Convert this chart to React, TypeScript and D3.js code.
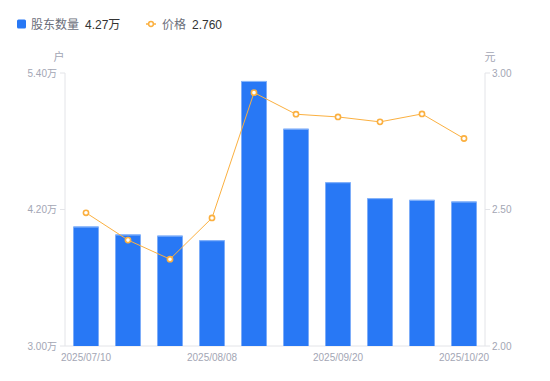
import React from "react";
import * as d3 from "d3";

const dates = ["2025/07/10","2025/07/20","2025/07/31","2025/08/08","2025/08/20","2025/08/31","2025/09/20","2025/09/30","2025/10/10","2025/10/20"];
const holders = [4.05, 3.98, 3.97, 3.93, 5.33, 4.91, 4.44, 4.30, 4.285, 4.27];
const prices = [2.488, 2.388, 2.318, 2.469, 2.928, 2.849, 2.839, 2.821, 2.850, 2.760];
const leftTicks = [3.0, 4.2, 5.4];
const rightTicks = [2.0, 2.5, 3.0];
const shownDates = ["2025/07/10","2025/08/08","2025/09/20","2025/10/20"];

const W = 550, H = 381;
const M = { left: 65, right: 485, top: 73, bottom: 346 };
const FONT = "'Liberation Sans', Arial, 'Noto Sans CJK SC', sans-serif";
const BLUE = "#2878f5";
const ORANGE = "#fbb040";
const AXIS_TEXT = "#a3a6b4";
const AXIS_LINE = "#e3e4e8";

export default function App() {
  const x = d3.scaleBand<string>().domain(dates).range([M.left, M.right]).paddingInner(0.4).paddingOuter(0.2);
  const yL = d3.scaleLinear().domain([3.0, 5.4]).range([M.bottom, M.top]);
  const yR = d3.scaleLinear().domain([2.0, 3.0]).range([M.bottom, M.top]);
  const cx = (d: string) => (x(d) as number) + x.bandwidth() / 2;
  const line = d3.line<number>().x((_, i) => cx(dates[i])).y((v) => yR(v));

  return (
    <svg width={W} height={H} style={{ position: "absolute", left: 0, top: 0, fontFamily: FONT }}>
      <rect width={W} height={H} fill="#fff" />
      {/* legend */}
      <rect x={17} y={19.5} width={9} height={9} rx={1.5} fill={BLUE} />
      <text x={31} y={28.5} fontSize={12} fill="#6b6e7a">股东数量</text>
      <text x={85} y={28.5} fontSize={12} fill="#333">4.27万</text>
      <line x1={146} x2={156} y1={24} y2={24} stroke={ORANGE} strokeWidth={1.5} />
      <circle cx={151} cy={24} r={2.4} fill="#fff" stroke={ORANGE} strokeWidth={1.5} />
      <text x={162} y={28.5} fontSize={12} fill="#6b6e7a">价格</text>
      <text x={192} y={28.5} fontSize={12} fill="#333">2.760</text>
      {/* units */}
      <text x={59} y={61} fontSize={11} fill={AXIS_TEXT} textAnchor="middle">户</text>
      <text x={490} y={61} fontSize={11} fill={AXIS_TEXT} textAnchor="middle">元</text>
      {/* axes */}
      <line x1={M.left} x2={M.left} y1={M.top} y2={M.bottom} stroke={AXIS_LINE} />
      <line x1={M.right} x2={M.right} y1={M.top} y2={M.bottom} stroke={AXIS_LINE} />
      <line x1={M.left} x2={M.right} y1={M.bottom} y2={M.bottom} stroke={AXIS_LINE} />
      {leftTicks.map((t) => (
        <g key={"l" + t}>
          <line x1={M.left - 5} x2={M.left} y1={yL(t)} y2={yL(t)} stroke={AXIS_LINE} />
          <text x={M.left - 8} y={yL(t)} dy="0.35em" fontSize={10} fill={AXIS_TEXT} textAnchor="end">{t.toFixed(2) + "万"}</text>
        </g>
      ))}
      {rightTicks.map((t) => (
        <g key={"r" + t}>
          <line x1={M.right} x2={M.right + 5} y1={yR(t)} y2={yR(t)} stroke={AXIS_LINE} />
          <text x={M.right + 7} y={yR(t)} dy="0.35em" fontSize={10} fill={AXIS_TEXT}>{t.toFixed(2)}</text>
        </g>
      ))}
      {shownDates.map((d) => (
        <text key={d} x={cx(d)} y={361} fontSize={10} fill={AXIS_TEXT} textAnchor="middle">{d}</text>
      ))}
      {/* bars */}
      {holders.map((v, i) => (
        <g key={"b" + i}>
          <rect x={x(dates[i])} y={yL(v)} width={x.bandwidth()} height={M.bottom - yL(v)} fill={BLUE} />
          <line x1={x(dates[i]) as number} x2={(x(dates[i]) as number) + x.bandwidth()} y1={yL(v) + 0.5} y2={yL(v) + 0.5} stroke="#8db8fa" strokeWidth={1} />
        </g>
      ))}
      {/* line */}
      <path d={line(prices) || ""} fill="none" stroke={ORANGE} strokeWidth={1} />
      {prices.map((v, i) => (
        <circle key={"p" + i} cx={cx(dates[i])} cy={yR(v)} r={2.6} fill="#fff" stroke={ORANGE} strokeWidth={1.6} />
      ))}
    </svg>
  );
}
